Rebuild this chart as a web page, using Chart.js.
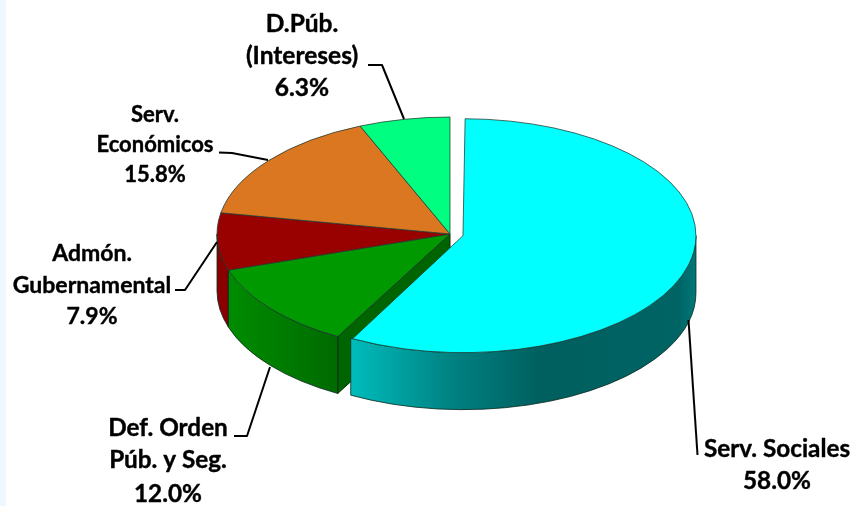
<!DOCTYPE html>
<html><head><meta charset="utf-8">
<script src="https://cdn.jsdelivr.net/npm/chart.js@4/dist/chart.umd.js"></script>
<style>
html,body{margin:0;padding:0;width:856px;height:506px;overflow:hidden;background:linear-gradient(to right,#eff8fe 6px,#fff 6px)}
#w{position:absolute;left:0;top:0;width:856px;height:506px}
</style></head><body><div id="w"><canvas id="c" width="856" height="506"></canvas></div>
<script>
const categories = ["Serv. Sociales","Def. Orden Púb. y Seg.","Admón. Gubernamental","Serv. Económicos","D.Púb. (Intereses)"];
const values = [58.0,12.0,7.9,15.8,6.3];
const valueLabels = ["58.0%","12.0%","7.9%","15.8%","6.3%"];
const topColors = ["#00ffff","#009900","#990000","#dc7721","#00ff80"];
const explode = [53.6,0,0,0,0]; // Chart.js draws an arc's offset at a quarter of this value
const wallStops = [
  [[0,"#00bcbc"],[0.3,"#008080"],[0.55,"#005f5f"],[0.95,"#006464"],[1,"#007878"]],
  [[0,"#008c00"],[0.6,"#007800"],[1,"#006a00"]],
  [[0,"#8a0000"],[1,"#8a0000"]],
  [[0,"#000"],[1,"#000"]],
  [[0,"#000"],[1,"#000"]]
];
const labelLayout = [
  {lines:["Serv. Sociales",valueLabels[0]],x:777,y:[449,481],size:24.3,leader:[[688.5,320],[697.5,455]]},
  {lines:["Def. Orden","Púb. y Seg.",valueLabels[1]],x:168,y:[428,460,494],size:24.3,leader:[[270,367],[247,436],[234,436]]},
  {lines:["Admón.","Gubernamental",valueLabels[2]],x:92,y:[254,286,317],size:23,leader:[[217,242],[185,290],[175,290]]},
  {lines:["Serv.","Económicos",valueLabels[3]],x:155,y:[115,145,175],size:22,leader:[[268,160],[232,153],[219,152.5]]},
  {lines:["D.Púb.","(Intereses)",valueLabels[4]],x:302,y:[24,56,88],size:24.5,leader:[[404,119],[382,65],[368,65]]}
];
const DEPTH = 57, SQUASH = 0.502, CY = 234;

const pie3d = {
  id:'pie3d',
  afterDatasetUpdate(chart){
    // Chart.js also grows an offset arc by its offset; keep the radius equal to the other slices
    chart.getDatasetMeta(0).data.forEach(a=>{ a.outerRadius -= (a.options.offset||0)/4; });
  },
  beforeDatasetsDraw(chart){
    const ctx = chart.ctx, arcs = chart.getDatasetMeta(0).data;
    // radial face of the green slice, bordering the exploded slice
    const g = arcs[1], sx=g.x+Math.cos(g.startAngle)*g.outerRadius, sy=CY+Math.sin(g.startAngle)*g.outerRadius*SQUASH;
    ctx.save();
    ctx.beginPath();
    ctx.moveTo(g.x,CY); ctx.lineTo(sx,sy); ctx.lineTo(sx,sy+DEPTH); ctx.lineTo(g.x,CY+DEPTH); ctx.closePath();
    ctx.fillStyle="#006400"; ctx.fill();
    ctx.strokeStyle="#0a2a0a"; ctx.lineWidth=1; ctx.stroke();
    // outer walls
    [2,1,0].forEach(i=>{
      const a=arcs[i], off=(a.options.offset||0)/4, mid=(a.startAngle+a.endAngle)/2;
      const cx=a.x+Math.cos(mid)*off, cy=CY+Math.sin(mid)*off*SQUASH;
      const s=Math.max(a.startAngle,0), e=Math.min(a.endAngle,Math.PI);
      if(e<=s) return;
      const r=a.outerRadius+off, ry=r*SQUASH;
      const x0=cx+Math.cos(e)*r, x1=cx+Math.cos(s)*r;
      const grad=ctx.createLinearGradient(x0,0,x1,0);
      wallStops[i].forEach(t=>grad.addColorStop(t[0],t[1]));
      ctx.beginPath();
      ctx.ellipse(cx,cy,r,ry,0,s,e,false);
      ctx.lineTo(cx+Math.cos(e)*r,cy+Math.sin(e)*ry+DEPTH);
      ctx.ellipse(cx,cy+DEPTH,r,ry,0,e,s,true);
      ctx.closePath();
      ctx.fillStyle=grad; ctx.fill();
      ctx.strokeStyle="rgba(10,40,30,.8)"; ctx.lineWidth=1; ctx.stroke();
    });
    ctx.restore();
    // squash the pie tops
    ctx.save();
    ctx.translate(0,CY); ctx.scale(1,SQUASH); ctx.translate(0,-arcs[0].y);
  },
  afterDatasetsDraw(chart){
    const ctx=chart.ctx;
    ctx.restore();
    ctx.save();
    ctx.strokeStyle="#000"; ctx.lineWidth=2; ctx.lineJoin="round";
    ctx.fillStyle="#000"; ctx.textAlign="center"; ctx.textBaseline="middle";
    labelLayout.forEach(l=>{
      ctx.beginPath();
      l.leader.forEach((p,i)=> i?ctx.lineTo(p[0],p[1]):ctx.moveTo(p[0],p[1]));
      ctx.lineWidth=2; ctx.stroke();
      ctx.font="bold "+l.size+"px Lato";
      ctx.lineWidth=0.4;
      l.lines.forEach((t,i)=>{ctx.fillText(t,l.x,l.y[i]);ctx.strokeText(t,l.x,l.y[i]);});
    });
    ctx.restore();
  }
};

new Chart(document.getElementById('c'),{
  type:'pie',
  data:{labels:categories,datasets:[{
    data:values,
    backgroundColor:topColors,
    borderColor:"#1c3a30",
    borderWidth:1,
    offset:explode,
    hoverOffset:0,
    clip:false
  }]},
  options:{
    responsive:false,
    animation:false,
    radius:233,
    layout:{padding:{left:44,right:0,top:0,bottom:38}},
    plugins:{legend:{display:false},tooltip:{enabled:false},title:{display:false}}
  },
  plugins:[pie3d]
});
</script></body></html>
